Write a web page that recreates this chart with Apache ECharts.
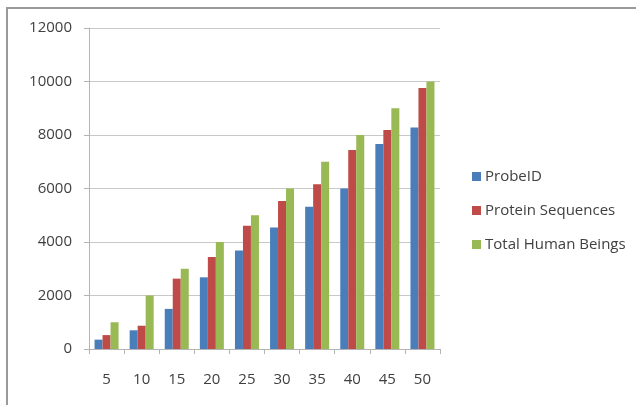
<!DOCTYPE html>
<html>
<head>
<meta charset="utf-8">
<script src="https://cdn.jsdelivr.net/npm/echarts@6/dist/echarts.min.js"></script>
<style>
  html, body { margin: 0; padding: 0; background: #fff; }
  #chart { width: 636px; height: 405px; }
</style>
</head>
<body>
<div id="chart"></div>
<script>
// Categories along the x axis
const categories = ['5', '10', '15', '20', '25', '30', '35', '40', '45', '50'];

// Series values
const probeId = [350, 700, 1500, 2680, 3680, 4540, 5320, 6000, 7660, 8280];
const proteinSequences = [520, 870, 2630, 3440, 4610, 5530, 6160, 7440, 8190, 9760];
const totalHumanBeings = [1000, 2000, 3000, 4000, 5000, 6000, 7000, 8000, 9000, 10000];

const seriesNames = ['ProbeID', 'Protein Sequences', 'Total Human Beings'];
const seriesColors = ['#4a7ebb', '#be4b48', '#98b954'];

const font = 'Open Sans, sans-serif';
const chart = echarts.init(document.getElementById('chart'), null, { renderer: 'canvas' });

const makeBar = (name, data, color) => ({
  name: name,
  type: 'bar',
  data: data,
  barWidth: 8,
  barGap: '0%',
  itemStyle: { color: color },
  emphasis: { disabled: true }
});

chart.setOption({
  animation: false,
  backgroundColor: '#fff',
  grid: { left: 89, top: 28, width: 351, height: 321, containLabel: false },
  legend: {
    orient: 'vertical',
    left: 467,
    top: 164,
    itemWidth: 9,
    itemHeight: 9,
    itemGap: 19,
    icon: 'rect',
    textStyle: { fontFamily: font, fontSize: 15, color: '#404040', padding: [0, 0, 0, -1] },
    data: seriesNames
  },
  xAxis: {
    type: 'category',
    data: categories,
    axisLine: { lineStyle: { color: '#b4b4b4', width: 1 } },
    axisTick: { show: true, length: 5, alignWithLabel: false, lineStyle: { color: '#b4b4b4' } },
    axisLabel: { fontFamily: font, fontSize: 15, color: '#404040', margin: 23 }
  },
  yAxis: {
    type: 'value',
    min: 0,
    max: 12000,
    interval: 2000,
    axisLine: { show: true, lineStyle: { color: '#b4b4b4', width: 1 } },
    axisTick: { show: true, length: 5, lineStyle: { color: '#b4b4b4' } },
    axisLabel: {
      fontFamily: font, fontSize: 15, color: '#404040', margin: 17,
      formatter: (v) => String(v)
    },
    splitLine: { lineStyle: { color: '#c8c8c8', width: 1 } }
  },
  graphic: [
    {
      type: 'polyline',
      shape: { points: [[7, 405], [7, 8], [636, 8]] },
      style: { stroke: '#9a9a9a', lineWidth: 2, fill: null },
      silent: true
    }
  ],
  series: [
    makeBar(seriesNames[0], probeId, seriesColors[0]),
    makeBar(seriesNames[1], proteinSequences, seriesColors[1]),
    makeBar(seriesNames[2], totalHumanBeings, seriesColors[2])
  ]
});
</script>
</body>
</html>
